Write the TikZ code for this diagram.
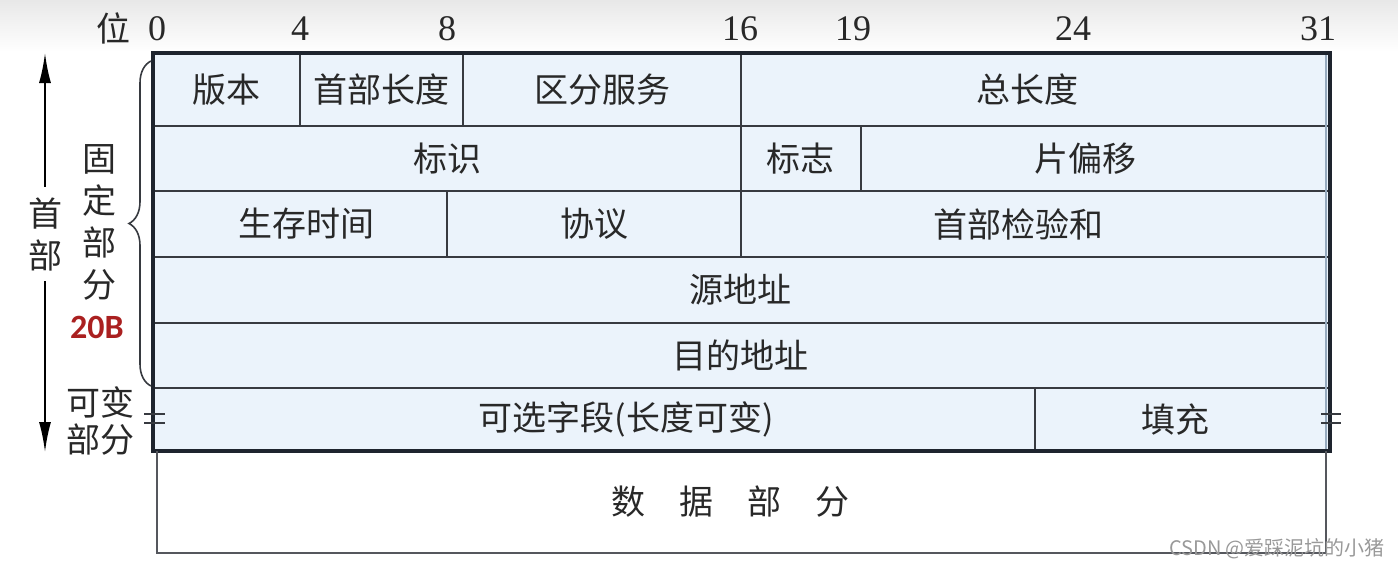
\documentclass[tikz,border=0pt]{standalone}
\usepackage{fontspec}
\setmainfont{Liberation Serif}
\newfontfamily\cjk{Noto Sans CJK SC}
\newfontfamily\calibri{Carlito}
\usetikzlibrary{arrows.meta, decorations.pathreplacing}

\definecolor{cellfill}{RGB}{235,243,251}
\definecolor{gridline}{RGB}{55,58,64}
\definecolor{boxline}{RGB}{30,36,46}
\definecolor{edgeline}{RGB}{150,170,190}
\definecolor{fixred}{RGB}{170,32,32}
\definecolor{textgray}{RGB}{40,40,40}

\tikzset{
	cell/.style={draw=gridline, line width=1pt},
	celltext/.style={font=\cjk\fontsize{17}{17}\selectfont, text=textgray, inner sep=1pt},
	bitlabel/.style={font=\fontsize{18}{18}\selectfont, text=textgray, inner sep=1pt},
	sidetext/.style={font=\cjk\fontsize{17}{21}\selectfont, text=textgray, align=center, inner sep=1pt},
}

\begin{document}
\begin{tikzpicture}[x=0.5pt, y=-0.5pt]
	\useasboundingbox (0,0) rectangle (1398,569);
	\shade[top color=black!9, bottom color=white] (0,0) rectangle (1398,52);

	% bit positions
	\node[sidetext] (wei) at (113,28) {位};
	\foreach \x/\b in {157/0, 300/4, 447/8, 740/16, 853/19, 1073/24, 1318/31}
		\node[bitlabel] (bit\b) at (\x,29) {\b};

	% header fields
	\fill[cellfill] (153,53) rectangle (1330,451);
	\foreach \xa/\ya/\xb/\yb/\tx/\txt/\nm in {
		153/53/300/126/226/版本/version,
		300/53/463/126/381/首部长度/hlen,
		463/53/741/126/602/区分服务/dserv,
		741/53/1330/126/1027/总长度/total,
		153/126/741/191/447/标识/ident,
		741/126/861/191/800/标志/flags,
		861/126/1330/191/1085/片偏移/offset,
		153/191/447/257/306/生存时间/ttl,
		447/191/741/257/594/协议/proto,
		741/191/1330/257/1018/首部检验和/checksum,
		153/257/1330/323/740/源地址/src,
		153/323/1330/388/740/目的地址/dst,
		153/388/1035/451/626/可选字段(长度可变)/options,
		1035/388/1330/451/1175/填充/padding}
	{
		\draw[cell] (\xa,\ya) rectangle (\xb,\yb);
		\node[celltext] (\nm) at (\tx,{(\ya+\yb)/2}) {\txt};
	}
	\draw[edgeline, line width=0.6pt] (1326,55) -- (1326,449);
	\draw[boxline, line width=1.6pt] (153,53) rectangle (1330,451);

	% variable length marks
	\foreach \y in {414, 423} {
		\draw[gridline, line width=1pt] (144,\y) -- (165,\y);
		\draw[gridline, line width=1pt] (1321,\y) -- (1341,\y);
	}

	% data part
	\draw[gridline!85, line width=1pt] (157,451) -- (157,553) -- (1326,553) -- (1326,451);
	\node[celltext] (data) at (730,502) {数　据　部　分};

	% left side labels
	\node[sidetext] (fixed) at (100,222) {固\\定\\部\\分};
	\node[font=\calibri\bfseries\fontsize{17}{17}\selectfont, text=fixred] (twenty) at (97,327) {20B};
	\node[sidetext, font=\cjk\fontsize{17}{18.5}\selectfont] (var) at (100,421) {可变\\部分};
	\node[sidetext] (header) at (45,234) {首\\部};
	\draw[decorate, decoration={brace, amplitude=11pt}, gridline, line width=0.8pt] (151,386) -- (151,61);

	\coordinate (htop) at (45,53);
	\coordinate (hbot) at (45,452);
	\draw[->, >={Latex[length=15pt, width=6pt]}, line width=1pt, shorten <=4pt] (header.north) -- (htop);
	\draw[->, >={Latex[length=15pt, width=6pt]}, line width=1pt, shorten <=4pt] (header.south) -- (hbot);

	\node[font=\cjk\fontsize{10}{10}\selectfont, text=black!40] (mark) at (1277,549) {CSDN @爱踩泥坑的小猪};
\end{tikzpicture}
\end{document}
